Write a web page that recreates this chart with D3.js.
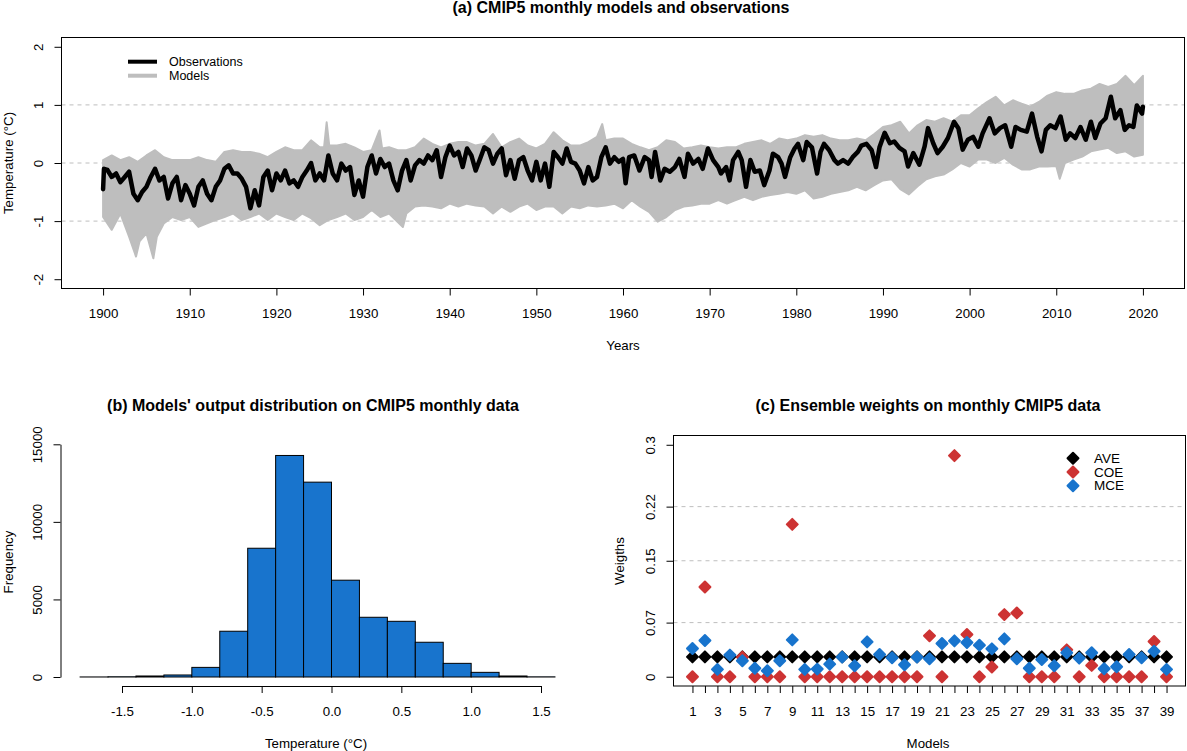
<!DOCTYPE html>
<html>
<head>
<meta charset="utf-8">
<script src="https://cdn.jsdelivr.net/npm/d3@7"></script>
<style>
body { margin: 0; background: #fff; }
svg text { font-family: "Liberation Sans", Arial, sans-serif; fill: #000; }
</style>
</head>
<body>
<div class="container"></div>
<script>
// ---- (a) observations, [year, anomaly] ----
var obsSeries = [
  [1900.0,-0.45],[1900.1,-0.1],[1900.5,-0.12],[1901,-0.24],[1901.5,-0.18],[1902,-0.33],[1902.5,-0.24],
  [1903,-0.15],[1903.5,-0.53],[1904,-0.64],[1904.5,-0.5],[1905,-0.41],[1905.5,-0.24],[1906,-0.1],
  [1906.5,-0.3],[1907,-0.24],[1907.5,-0.61],[1908,-0.35],[1908.5,-0.24],[1909,-0.64],[1909.5,-0.38],
  [1910,-0.53],[1910.5,-0.73],[1911,-0.41],[1911.5,-0.3],[1912,-0.53],[1912.5,-0.64],[1913,-0.41],
  [1913.5,-0.3],[1914,-0.1],[1914.5,-0.04],[1915,-0.18],[1915.5,-0.18],[1916,-0.27],[1916.5,-0.41],
  [1917,-0.78],[1917.5,-0.47],[1918,-0.73],[1918.5,-0.24],[1919,-0.13],[1919.5,-0.47],[1920,-0.18],
  [1920.5,-0.3],[1921,-0.13],[1921.5,-0.35],[1922,-0.3],[1922.5,-0.41],[1923,-0.24],[1923.5,-0.13],
  [1924,0.0],[1924.5,-0.3],[1925,-0.18],[1925.5,-0.3],[1926,0.13],[1926.5,-0.18],[1927,-0.3],
  [1927.5,-0.01],[1928,-0.13],[1928.5,-0.07],[1929,-0.55],[1929.5,-0.3],[1930,-0.58],[1930.5,-0.07],
  [1931,0.13],[1931.5,-0.18],[1932,0.07],[1932.5,-0.07],[1933,-0.01],[1933.5,-0.3],[1934,-0.47],
  [1934.5,-0.13],[1935,0.05],[1935.5,-0.3],[1936,-0.04],[1936.5,0.05],[1937,-0.01],[1937.5,0.13],
  [1938,0.05],[1938.5,0.22],[1939,-0.24],[1939.5,0.1],[1940,0.3],[1940.5,0.13],[1941,0.19],
  [1941.5,-0.07],[1942,0.25],[1942.5,0.13],[1943,-0.13],[1943.5,0.07],[1944,0.27],[1944.5,0.22],
  [1945,-0.01],[1945.5,0.16],[1946,0.25],[1946.5,-0.21],[1947,0.05],[1947.5,-0.27],[1948,0.05],
  [1948.5,0.1],[1949,-0.13],[1949.5,-0.3],[1950,0.02],[1950.5,-0.3],[1951,-0.01],[1951.5,-0.41],
  [1952,0.19],[1952.5,0.1],[1953,-0.01],[1953.5,0.25],[1954,0.02],[1954.5,-0.01],[1955,-0.13],
  [1955.5,-0.35],[1956,-0.07],[1956.5,-0.3],[1957,-0.24],[1957.5,0.1],[1958,0.27],[1958.5,-0.01],
  [1959,0.1],[1959.5,0.02],[1960,0.07],[1960.3,-0.35],[1960.7,0.1],[1961.3,0.13],[1961.9,-0.13],
  [1962.5,0.1],[1963,0.05],[1963.3,-0.24],[1963.7,0.19],[1964.3,-0.3],[1964.8,-0.1],[1965.4,-0.15],
  [1966,-0.07],[1966.5,0.07],[1967.1,-0.24],[1967.5,0.16],[1968.1,-0.01],[1968.7,0.07],[1969.2,-0.1],
  [1969.8,0.25],[1970.4,0.05],[1971,-0.07],[1971.3,-0.18],[1971.9,-0.07],[1972.3,-0.3],[1972.7,0.05],
  [1973.3,0.19],[1973.7,0.05],[1974.2,-0.41],[1974.7,0.05],[1975.2,-0.15],[1975.8,-0.13],[1976.3,-0.38],
  [1976.9,-0.13],[1977.3,0.16],[1977.9,0.1],[1978.3,-0.01],[1978.7,-0.24],[1979.3,0.1],[1979.8,0.25],
  [1980.2,0.33],[1980.8,0.05],[1981.2,0.36],[1981.8,0.27],[1982.4,-0.18],[1982.8,0.19],[1983.2,0.33],
  [1983.8,0.22],[1984.4,0.05],[1984.8,-0.01],[1985.4,0.05],[1986,-0.01],[1986.5,0.1],[1987.1,0.19],
  [1987.5,0.3],[1988.1,0.33],[1988.7,0.22],[1989.2,-0.07],[1989.6,0.27],[1990.2,0.52],[1990.8,0.34],
  [1991.3,0.37],[1991.9,0.26],[1992.5,0.2],[1992.9,-0.06],[1993.5,0.17],[1994.2,-0.03],[1994.8,0.28],
  [1995.2,0.6],[1995.8,0.34],[1996.3,0.17],[1996.9,0.28],[1997.5,0.43],[1998.2,0.71],[1998.7,0.6],
  [1999.2,0.23],[1999.8,0.4],[2000.4,0.45],[2001,0.28],[2001.5,0.51],[2002.3,0.77],[2002.9,0.51],
  [2003.5,0.6],[2004.1,0.65],[2004.8,0.28],[2005.3,0.62],[2005.9,0.57],[2006.6,0.54],[2007.2,0.85],
  [2007.8,0.45],[2008.3,0.2],[2008.8,0.57],[2009.3,0.65],[2009.9,0.6],[2010.5,0.8],[2011.1,0.4],
  [2011.6,0.51],[2012.2,0.43],[2012.8,0.62],[2013.4,0.4],[2014,0.71],[2014.5,0.43],[2015.1,0.68],
  [2015.7,0.77],[2016.3,1.14],[2016.8,0.77],[2017.4,0.91],[2017.9,0.57],[2018.4,0.65],[2018.9,0.62],
  [2019.3,0.99],[2019.9,0.85],[2020,0.97]
];

// ---- (a) spread of the model runs: upper and lower edge of the grey band ----
var modelUpper = [
  [1900,0.05],[1901,0.13],[1902,0.05],[1903,0.1],[1904,0.02],[1905,0.13],[1906,0.22],[1907,0.1],
  [1908,0.05],[1909,0.05],[1910,0.05],[1911,0.1],[1912,0.05],[1913,0.02],[1914,0.19],[1915,0.22],
  [1916,0.19],[1917,0.19],[1918,0.16],[1919,0.1],[1920,0.19],[1921,0.27],[1922,0.22],[1923,0.22],
  [1924,0.39],[1925,0.27],[1925.5,0.27],[1925.8,0.7],[1926.1,0.3],[1927,0.3],[1928,0.33],[1929,0.27],
  [1930,0.19],[1931,0.22],[1931.9,0.56],[1932.2,0.25],[1933,0.27],[1934,0.22],[1935,0.22],[1936,0.27],
  [1937,0.42],[1938,0.33],[1939,0.27],[1940,0.33],[1941,0.36],[1942,0.36],[1943,0.3],[1944,0.33],
  [1945,0.5],[1946,0.27],[1947,0.36],[1948,0.42],[1949,0.3],[1950,0.25],[1951,0.33],[1952,0.53],
  [1953,0.39],[1954,0.3],[1955,0.3],[1956,0.36],[1957,0.45],[1957.6,0.67],[1958,0.39],[1959,0.42],
  [1960,0.42],[1961,0.33],[1962,0.27],[1963,0.22],[1964,0.27],[1965,0.39],[1966,0.36],[1967,0.25],
  [1968,0.27],[1969,0.3],[1970,0.27],[1971,0.25],[1972,0.27],[1973,0.27],[1974,0.33],[1975,0.36],
  [1976,0.39],[1977,0.33],[1978,0.42],[1979,0.39],[1980,0.42],[1981,0.48],[1982,0.45],[1983,0.48],
  [1984,0.42],[1985,0.39],[1986,0.39],[1987,0.42],[1988,0.39],[1989,0.5],[1990,0.62],[1991,0.65],
  [1992,0.71],[1993,0.51],[1994,0.65],[1995,0.74],[1996,0.71],[1997,0.77],[1998,0.71],[1999,0.82],
  [2000,0.82],[2001,0.94],[2002,1.05],[2003,1.14],[2004,0.99],[2005,1.08],[2006,1.02],[2007,0.97],
  [2008,1.05],[2009,1.16],[2010,1.22],[2011,1.19],[2012,1.19],[2013,1.25],[2014,1.28],[2015,1.36],
  [2016,1.31],[2017,1.36],[2018,1.5],[2019,1.34],[2020,1.5]
];
var modelLower = [
  [1900,-0.93],[1901,-1.15],[1902,-0.87],[1903,-1.27],[1903.8,-1.61],[1904.2,-1.35],[1905,-1.21],
  [1905.8,-1.64],[1906.2,-1.27],[1907,-1.04],[1908,-0.93],[1909,-0.98],[1910,-0.93],[1911,-1.1],
  [1912,-1.04],[1913,-0.98],[1914,-0.93],[1915,-0.87],[1916,-0.98],[1917,-0.93],[1918,-0.87],
  [1919,-0.98],[1920,-0.87],[1921,-0.93],[1922,-0.98],[1923,-0.87],[1924,-0.95],[1925,-1.07],
  [1926,-0.98],[1927,-0.93],[1928,-0.87],[1929,-0.98],[1930,-0.93],[1931,-0.81],[1932,-0.93],
  [1933,-0.87],[1934.6,-1.1],[1935,-0.87],[1936,-0.75],[1937,-0.73],[1938,-0.75],[1939,-0.78],
  [1940,-0.7],[1941,-0.75],[1942,-0.7],[1943,-0.73],[1944,-0.75],[1945,-0.87],[1946,-0.75],
  [1947,-0.84],[1948,-0.75],[1949,-0.7],[1950,-0.81],[1951,-0.75],[1952,-0.75],[1953,-0.87],
  [1954,-0.75],[1955,-0.78],[1956,-0.73],[1957,-0.75],[1958,-0.73],[1959,-0.7],[1960,-0.78],
  [1961,-0.64],[1962,-0.75],[1963,-0.84],[1964,-1.01],[1965,-0.93],[1966,-0.81],[1967,-0.75],
  [1968,-0.73],[1969,-0.7],[1970,-0.7],[1971,-0.64],[1972,-0.7],[1973,-0.64],[1974,-0.58],
  [1975,-0.64],[1976,-0.58],[1977,-0.55],[1978,-0.53],[1979,-0.5],[1980,-0.53],[1981,-0.47],
  [1982,-0.61],[1983,-0.58],[1984,-0.53],[1985,-0.5],[1986,-0.47],[1987,-0.41],[1988,-0.47],
  [1989,-0.38],[1990,-0.3],[1991,-0.28],[1992,-0.45],[1993,-0.54],[1994,-0.4],[1995,-0.28],
  [1996,-0.23],[1997,-0.2],[1998,-0.11],[1999,0.0],[2000,-0.06],[2001,0.06],[2002,0.06],[2003,0.0],
  [2004,0.09],[2005,-0.03],[2006,-0.11],[2007,-0.11],[2008,-0.06],[2009,-0.06],[2010,-0.05],
  [2010.4,-0.27],[2011,0.0],[2012,0.06],[2013,0.11],[2014,0.2],[2015,0.23],[2016,0.26],[2017,0.17],
  [2018,0.2],[2019,0.11],[2020,0.14]
];
var yearTicks = [1900, 1910, 1920, 1930, 1940, 1950, 1960, 1970, 1980, 1990, 2000, 2010, 2020];
var tempTicks = [-2, -1, 0, 1, 2];
var tempGrid = [-1, 0, 1];

// ---- (b) histogram ----
var binEdges = [-1.8,-1.6,-1.4,-1.2,-1.0,-0.8,-0.6,-0.4,-0.2,0.0,0.2,0.4,0.6,0.8,1.0,1.2,1.4,1.6];
var binCounts = [3, 15, 65, 130, 620, 2950, 8300, 14280, 12560, 6240, 3850, 3590, 2240, 880, 300, 65, 10];
var histXTicks = [-1.5, -1.0, -0.5, 0.0, 0.5, 1.0, 1.5];
var histYTicks = [0, 5000, 10000, 15000];

// ---- (c) ensemble weights ----
var models = d3.range(1, 40);
var aveWeights = models.map(() => 1 / 39);
var coeWeights = [0, 0.116, 0, 0, 0.0254, 0, 0, 0, 0.197, 0, 0, 0, 0, 0, 0, 0, 0, 0, 0, 0.0529,
                  0, 0.286, 0.0546, 0, 0.0125, 0.0804, 0.0825, 0, 0, 0, 0.0348, 0, 0.0146, 0, 0, 0, 0, 0.0456, 0];
var mceWeights = [0.0365, 0.0468, 0.0095, 0.028, 0.0206, 0.011, 0.0077, 0.0206, 0.0477, 0.0095,
                  0.0099, 0.0163, 0.0254, 0.0142, 0.0451, 0.0288, 0.0245, 0.0155, 0.0254, 0.0232,
                  0.043, 0.0464, 0.0443, 0.0408, 0.0361, 0.049, 0.0232, 0.011, 0.0223, 0.0142,
                  0.031, 0.024, 0.031, 0.0103, 0.0129, 0.0288, 0.0245, 0.033, 0.0095];
var weightTicks = [0, 0.07, 0.15, 0.22, 0.3];
var weightGrid = [0.07, 0.15, 0.22];
var seriesNames = ["AVE", "COE", "MCE"];
var seriesColors = ["#000000", "#CD3333", "#1874CD"];

var grey = "#BEBEBE";
var fs = "13.3px";      // R cex = 1
var fsMain = "16px";    // R cex.main = 1.2

var svg = d3.select(".container")
    .append("svg")
    .attr("width", 1187)
    .attr("height", 751);

svg.append("rect").attr("width", 1187).attr("height", 751).attr("fill", "#fff");

// little helpers for R-looking axes
function styleBottom(g) {
    g.selectAll("text").attr("font-size", fs).attr("y", 25).attr("dy", "0.35em");
}
function styleLeft(g) {
    g.selectAll(".tick text")
        .attr("font-size", fs)
        .attr("x", 0).attr("dy", "0.35em")
        .attr("text-anchor", "middle")
        .attr("transform", "translate(-23,0) rotate(-90)");
}
function label(x, y, txt, opts) {
    opts = opts || {};
    var t = svg.append("text")
        .attr("x", x).attr("y", y)
        .attr("text-anchor", "middle")
        .attr("dy", "0.35em")
        .attr("font-size", opts.size || fs)
        .attr("font-weight", opts.bold ? "bold" : null)
        .text(txt);
    if (opts.rotate) t.attr("transform", `rotate(-90,${x},${y})`);
    return t;
}

// =============== (a) =================
var xA = d3.scaleLinear().domain([1895.2, 2024.8]).range([61.5, 1184.5]);
var yA = d3.scaleLinear().domain([-2.16, 2.16]).range([288.5, 37.5]);

var gA = svg.append("g");

gA.selectAll(".gridA")
    .data(tempGrid)
    .enter()
    .append("line")
    .attr("x1", xA.range()[0]).attr("x2", xA.range()[1])
    .attr("y1", d => yA(d)).attr("y2", d => yA(d))
    .attr("stroke", grey)
    .attr("stroke-dasharray", "4,4");

var pLine = d3.line().x(d => xA(d[0])).y(d => yA(d[1]));
var band = modelUpper.concat(modelLower.slice().reverse());
gA.append("path")
    .attr("d", pLine(band) + "Z")
    .attr("fill", grey)
    .attr("stroke", grey)
    .attr("stroke-width", 2)
    .attr("stroke-linejoin", "round");

gA.append("path")
    .attr("d", pLine(obsSeries))
    .attr("fill", "none")
    .attr("stroke", "#000")
    .attr("stroke-width", 4.5)
    .attr("stroke-linejoin", "round")
    .attr("stroke-linecap", "round");

gA.append("rect")
    .attr("x", xA.range()[0]).attr("y", yA.range()[1])
    .attr("width", xA.range()[1] - xA.range()[0])
    .attr("height", yA.range()[0] - yA.range()[1])
    .attr("fill", "none").attr("stroke", "#000");

gA.append("g")
    .attr("transform", `translate(0,${yA.range()[0]})`)
    .call(d3.axisBottom(xA).tickValues(yearTicks).tickSize(7).tickFormat(d => String(d)))
    .call(g => g.select(".domain").remove())
    .call(styleBottom);

gA.append("g")
    .attr("transform", `translate(${xA.range()[0]},0)`)
    .call(d3.axisLeft(yA).tickValues(tempTicks).tickSize(7).tickFormat(d => String(d)))
    .call(g => g.select(".domain").remove())
    .call(styleLeft);

// legend (a)
var legA = [["Observations", "#000"], ["Models", grey]];
legA.forEach((d, i) => {
    var y = 61.7 + i * 14;
    gA.append("line").attr("x1", 128).attr("x2", 157).attr("y1", y).attr("y2", y)
        .attr("stroke", d[1]).attr("stroke-width", 4);
    gA.append("text").attr("x", 169).attr("y", y).attr("dy", "0.35em")
        .attr("font-size", "12.5px").text(d[0]);
});

label(621, 7, "(a) CMIP5 monthly models and observations", {bold: true, size: fsMain});
label(623, 345, "Years");
label(8, 163, "Temperature (°C)", {rotate: true});

// =============== (b) =================
var xB = d3.scaleLinear().domain([-1.5, 1.5]).range([122, 541]);
var yB = d3.scaleLinear().domain([0, 15000]).range([677, 444.3]);

var gB = svg.append("g");
gB.selectAll(".bar")
    .data(binCounts)
    .enter()
    .append("rect")
    .classed("bar", true)
    .attr("x", (d, i) => xB(binEdges[i]))
    .attr("width", (d, i) => xB(binEdges[i + 1]) - xB(binEdges[i]))
    .attr("y", d => yB(d))
    .attr("height", d => yB(0) - yB(d))
    .attr("fill", "#1874CD")
    .attr("stroke", "#000")
    .attr("stroke-width", 1);

gB.append("g")
    .attr("transform", "translate(0,686)")
    .call(d3.axisBottom(xB).tickValues(histXTicks).tickSize(7).tickSizeOuter(0).tickFormat(d => d.toFixed(1)))
    .call(styleBottom);

gB.append("g")
    .attr("transform", "translate(60.5,0)")
    .call(d3.axisLeft(yB).tickValues(histYTicks).tickSize(7).tickSizeOuter(0).tickFormat(d => String(d)))
    .call(styleLeft);

label(313, 405, "(b) Models' output distribution on CMIP5 monthly data", {bold: true, size: fsMain});
label(316, 743, "Temperature (°C)");
label(8, 562, "Frequency", {rotate: true});

// =============== (c) =================
var xC = d3.scaleLinear().domain([-0.52, 40.52]).range([673.5, 1185.5]);
var yC = d3.scaleLinear().domain([-0.012, 0.312]).range([686, 435.5]);

var gC = svg.append("g");
gC.selectAll(".gridC")
    .data(weightGrid)
    .enter()
    .append("line")
    .attr("x1", xC.range()[0]).attr("x2", xC.range()[1])
    .attr("y1", d => yC(d)).attr("y2", d => yC(d))
    .attr("stroke", grey)
    .attr("stroke-dasharray", "4,4");

var diamond = {
    draw: function (ctx, size) {
        var r = Math.sqrt(size / 2);
        ctx.moveTo(0, -r); ctx.lineTo(r, 0); ctx.lineTo(0, r); ctx.lineTo(-r, 0); ctx.closePath();
    }
};
var sym = d3.symbol().type(diamond).size(60);

[aveWeights, coeWeights, mceWeights].forEach((vals, k) => {
    gC.selectAll(".pt" + k)
        .data(vals)
        .enter()
        .append("path")
        .attr("d", sym)
        .attr("transform", (d, i) => `translate(${xC(models[i])},${yC(d)})`)
        .attr("fill", seriesColors[k])
        .attr("stroke", seriesColors[k])
        .attr("stroke-width", 2)
        .attr("stroke-linejoin", "round");
});

gC.append("rect")
    .attr("x", xC.range()[0]).attr("y", yC.range()[1])
    .attr("width", xC.range()[1] - xC.range()[0])
    .attr("height", yC.range()[0] - yC.range()[1])
    .attr("fill", "none").attr("stroke", "#000");

gC.append("g")
    .attr("transform", `translate(0,${yC.range()[0]})`)
    .call(d3.axisBottom(xC).tickValues(models).tickSize(7).tickFormat(d => d % 2 ? String(d) : ""))
    .call(g => g.select(".domain").remove())
    .call(styleBottom);

gC.append("g")
    .attr("transform", `translate(${xC.range()[0]},0)`)
    .call(d3.axisLeft(yC).tickValues(weightTicks).tickSize(7).tickFormat(d => String(d)))
    .call(g => g.select(".domain").remove())
    .call(styleLeft);

seriesNames.forEach((name, k) => {
    var y = 458.3 + k * 13.7;
    gC.append("path").attr("d", sym)
        .attr("transform", `translate(1073,${y})`)
        .attr("fill", seriesColors[k]).attr("stroke", seriesColors[k])
        .attr("stroke-width", 2).attr("stroke-linejoin", "round");
    gC.append("text").attr("x", 1094).attr("y", y).attr("dy", "0.35em")
        .attr("font-size", "13.5px").text(name);
});

label(928, 405, "(c) Ensemble weights on monthly CMIP5 data", {bold: true, size: fsMain});
label(928, 743, "Models");
label(619, 561, "Weigths", {rotate: true});
</script>
</body>
</html>
